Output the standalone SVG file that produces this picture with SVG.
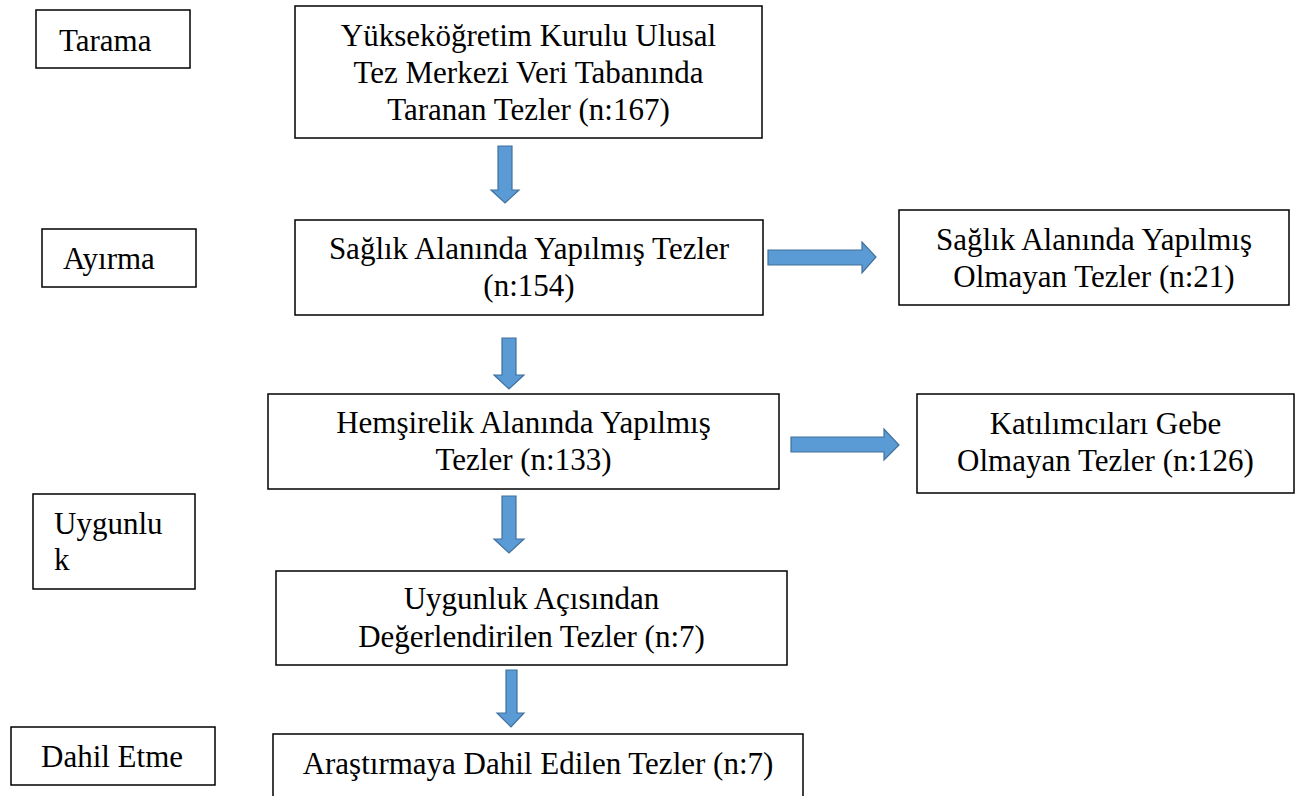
<svg xmlns="http://www.w3.org/2000/svg" width="1302" height="796" viewBox="0 0 1302 796">
<style>
.box{fill:#fff;stroke:#000;stroke-width:1.5}
.t{font-family:'Liberation Serif','Tinos','Times New Roman','DejaVu Serif',serif;font-size:31px;fill:#000}
.c{text-anchor:middle}
.arr{fill:#5b9bd5;stroke:#41719c;stroke-width:1.2;stroke-linejoin:miter}
</style>
<rect width="1302" height="796" fill="#fff"/>
<g id="stage-tarama"><rect class="box" x="36" y="10" width="154" height="58"/><text class="t" x="59" y="51" font-family="Liberation Serif, DejaVu Serif, serif">Tarama</text></g>
<g id="stage-ayirma"><rect class="box" x="42" y="229" width="154" height="58"/><text class="t" x="63" y="269">Ayırma</text></g>
<g id="stage-uygunluk"><rect class="box" x="33" y="494" width="162" height="95"/><text class="t" x="54" y="534">Uygunlu</text><text class="t" x="54" y="570">k</text></g>
<g id="stage-dahil"><rect class="box" x="11" y="727" width="204" height="58"/><text class="t" x="41" y="767">Dahil Etme</text></g>
<g id="n1"><rect class="box" x="295" y="6" width="467" height="132"/>
<text class="t c" x="528.5" y="46">Yükseköğretim Kurulu Ulusal</text>
<text class="t c" x="528.5" y="83">Tez Merkezi Veri Tabanında</text>
<text class="t c" x="528.5" y="120">Taranan Tezler (n:167)</text></g>
<g id="n2"><rect class="box" x="295" y="220" width="468" height="95"/>
<text class="t c" x="529" y="259">Sağlık Alanında Yapılmış Tezler</text>
<text class="t c" x="529" y="296">(n:154)</text></g>
<g id="n2x"><rect class="box" x="899" y="210" width="390" height="95"/>
<text class="t c" x="1094" y="250">Sağlık Alanında Yapılmış</text>
<text class="t c" x="1094" y="287">Olmayan Tezler (n:21)</text></g>
<g id="n3"><rect class="box" x="268" y="394" width="511" height="95"/>
<text class="t c" x="523.5" y="433">Hemşirelik Alanında Yapılmış</text>
<text class="t c" x="523.5" y="470">Tezler (n:133)</text></g>
<g id="n3x"><rect class="box" x="917" y="394" width="377" height="99"/>
<text class="t c" x="1105.5" y="434">Katılımcıları Gebe</text>
<text class="t c" x="1105.5" y="471">Olmayan Tezler (n:126)</text></g>
<g id="n4"><rect class="box" x="276" y="571" width="511" height="94"/>
<text class="t c" x="531.5" y="609">Uygunluk Açısından</text>
<text class="t c" x="531.5" y="647">Değerlendirilen Tezler (n:7)</text></g>
<g id="n5"><rect class="box" x="273" y="734" width="530" height="70"/>
<text class="t c" x="538" y="774">Araştırmaya Dahil Edilen Tezler (n:7)</text></g>
<g id="connectors">
<polygon class="arr" points="498,146 512,146 512,190 519,190 505,203 491,190 498,190"/>
<polygon class="arr" points="768,250 862,250 862,242 876,257 862,273 862,265 768,265"/>
<polygon class="arr" points="502,338 516,338 516,375 524,375 509,389 494,375 502,375"/>
<polygon class="arr" points="791,437 884,437 884,429 899,445 884,460 884,452 791,452"/>
<polygon class="arr" points="502,496 516,496 516,539 524,539 509,553 494,539 502,539"/>
<polygon class="arr" points="506,670 517,670 517,713 524,713 511,727 497,713 506,713"/>
</g>
</svg>
